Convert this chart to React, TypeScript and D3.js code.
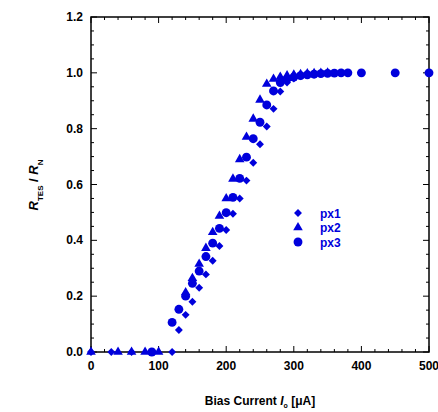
import React from "react";
import * as d3 from "d3";

const px1X = [0, 30, 60, 90, 120, 130, 140, 150, 160, 170, 180, 190, 200, 210, 220, 230, 240, 250, 260, 270, 280, 290, 300, 310, 320, 330, 340, 350, 360, 370, 380];
const px1Y = [0, 0, 0, 0, 0, 0.079, 0.133, 0.18, 0.23, 0.278, 0.327, 0.38, 0.437, 0.495, 0.55, 0.614, 0.678, 0.744, 0.808, 0.871, 0.933, 0.965, 0.98, 0.988, 0.992, 0.995, 0.997, 0.998, 0.999, 1.0, 1.0];

const px2X = [0, 40, 60, 80, 100, 140, 150, 160, 170, 180, 190, 200, 210, 220, 230, 240, 250, 260, 270, 280, 290, 300, 310, 320, 330, 340, 350];
const px2Y = [0, 0, 0, 0, 0, 0.213, 0.264, 0.315, 0.372, 0.429, 0.487, 0.55, 0.62, 0.69, 0.77, 0.835, 0.903, 0.96, 0.978, 0.985, 0.99, 0.993, 0.995, 0.997, 0.998, 0.999, 1.0];

const px3X = [90, 120, 130, 140, 150, 160, 170, 180, 190, 200, 210, 220, 230, 240, 250, 260, 270, 280, 290, 300, 310, 320, 330, 340, 350, 360, 370, 380, 400, 450, 500];
const px3Y = [0, 0.106, 0.153, 0.2, 0.246, 0.29, 0.342, 0.39, 0.443, 0.499, 0.554, 0.622, 0.698, 0.764, 0.823, 0.885, 0.935, 0.965, 0.978, 0.985, 0.99, 0.993, 0.995, 0.997, 0.998, 0.999, 1.0, 1.0, 1.0, 1.0, 1.0];

const seriesNames = ["px1", "px2", "px3"];
const xTicks = [0, 100, 200, 300, 400, 500];
const yTicks = [0, 0.2, 0.4, 0.6, 0.8, 1.0, 1.2];

const BLUE = "#0000dc";
const W = 438;
const H = 412;
const L = 91, R = 429, T = 17, B = 352;

const x = d3.scaleLinear().domain([0, 500]).range([L, R]);
const y = d3.scaleLinear().domain([0, 1.2]).range([B, T]);

const diamond = d3.symbol().type(d3.symbolDiamond2).size(40)();
const triangle = d3.symbol().type(d3.symbolTriangle).size(40)();
const circle = d3.symbol().type(d3.symbolCircle).size(62)();
const shapes = [diamond, triangle, circle];

function Marker({ cx, cy, s }: { cx: number; cy: number; s: number }) {
  return <path d={shapes[s]} transform={`translate(${cx},${cy})`} fill={BLUE} />;
}

export default function App() {
  const xMinor = d3.range(0, 501, 20);
  const yMinor = d3.range(0, 1.2001, 0.05);
  const series = [
    px1X.map((v, i) => [v, px1Y[i]]),
    px2X.map((v, i) => [v, px2Y[i]]),
    px3X.map((v, i) => [v, px3Y[i]]),
  ];
  const font = "Arial, 'Liberation Sans', sans-serif";
  return (
    <svg width={W} height={H} style={{ position: "absolute", left: 0, top: 0 }} fontFamily={font}>
      <rect x={0} y={0} width={W} height={H} fill="white" />
      {xMinor.map((v) => {
        const major = v % 100 === 0;
        const len = major ? 6 : 3;
        return (
          <g key={"xt" + v} stroke="black" strokeWidth={1}>
            <line x1={x(v)} x2={x(v)} y1={B} y2={B - len} />
            <line x1={x(v)} x2={x(v)} y1={T} y2={T + len} />
          </g>
        );
      })}
      {yMinor.map((v, i) => {
        const major = i % 4 === 0;
        const len = major ? 6 : 3;
        return (
          <g key={"yt" + i} stroke="black" strokeWidth={1}>
            <line x1={L} x2={L + len} y1={y(v)} y2={y(v)} />
            <line x1={R} x2={R - len} y1={y(v)} y2={y(v)} />
          </g>
        );
      })}
      <rect x={L} y={T} width={R - L} height={B - T} fill="none" stroke="black" strokeWidth={1.5} />
      {xTicks.map((v) => (
        <text key={"xl" + v} x={x(v)} y={370} textAnchor="middle" fontSize={12} fontWeight="bold">
          {v}
        </text>
      ))}
      {yTicks.map((v) => (
        <text key={"yl" + v} x={83} y={y(v) + 4} textAnchor="end" fontSize={12} fontWeight="bold">
          {v.toFixed(1)}
        </text>
      ))}
      {series.map((pts, s) =>
        pts.map((p, i) => <Marker key={s + "-" + i} cx={x(p[0])} cy={y(p[1])} s={s} />)
      )}
      {seriesNames.map((n, i) => (
        <g key={n}>
          <Marker cx={298} cy={213 + i * 14.5} s={i} />
          <text x={320} y={213 + i * 14.5 + 4.5} fontSize={12} fontWeight="bold" fill={BLUE}>
            {n}
          </text>
        </g>
      ))}
      <text x={260} y={405} textAnchor="middle" fontSize={12} fontWeight="bold">
        Bias Current <tspan fontStyle="italic">I</tspan>
        <tspan fontSize={7} dy={3}>o</tspan>
        <tspan dy={-3}> [μA]</tspan>
      </text>
      <text transform={`translate(38,185) rotate(-90)`} textAnchor="middle" fontSize={13} fontWeight="bold">
        <tspan fontStyle="italic">R</tspan>
        <tspan fontSize={8} dy={5}>TES</tspan>
        <tspan dy={-5}> / </tspan>
        <tspan fontStyle="italic">R</tspan>
        <tspan fontSize={8} dy={5}>N</tspan>
      </text>
    </svg>
  );
}
